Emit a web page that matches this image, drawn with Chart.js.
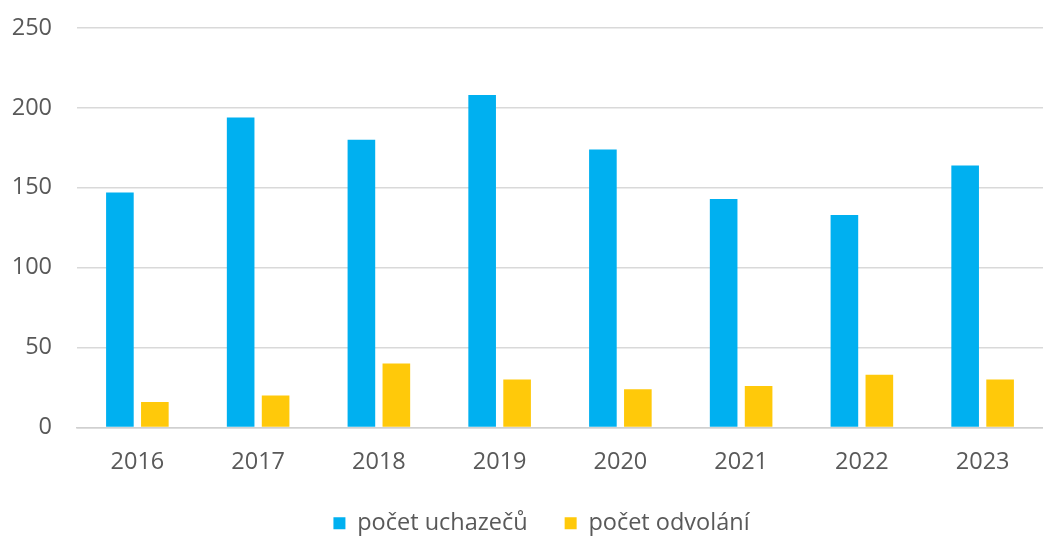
<!DOCTYPE html>
<html>
<head>
<meta charset="utf-8">
<script src="https://cdn.jsdelivr.net/npm/chart.js@4"></script>
<style>
  html, body { margin: 0; padding: 0; background: #fff; }
  #wrap { width: 1043px; height: 536px; }
</style>
</head>
<body>
<div id="wrap"><canvas id="chart"></canvas></div>
<script>
const years = ['2016', '2017', '2018', '2019', '2020', '2021', '2022', '2023'];
const uchazeci = [147, 194, 180, 208, 174, 143, 133, 164];
const odvolani = [16, 20, 40, 30, 24, 26, 33, 30];
const yTicks = [0, 50, 100, 150, 200, 250];

const textColor = '#595959';
const fontFamily = "'Open Sans', 'DejaVu Sans', sans-serif";
const tickFont = { family: fontFamily, size: 23.5 };
const legendFont = { family: fontFamily, size: 23.5 };

// legend in the original sits a little right of the page centre
const legendShift = {
    id: 'legendShift',
    afterLayout(c) {
        c.legend.left += 38;
    },
};

const chartCanvas = document.getElementById('chart');
const chart = new Chart(chartCanvas, {
    type: 'bar',
    data: {
        labels: years,
        datasets: [{
            label: 'počet uchazečů',
            data: uchazeci,
            backgroundColor: '#00B0F0',
            categoryPercentage: 0.579,
            barPercentage: 0.79,
        }, {
            label: 'počet odvolání',
            data: odvolani,
            backgroundColor: '#FFC90A',
            categoryPercentage: 0.579,
            barPercentage: 0.79,
        }],
    },
    options: {
        responsive: true,
        maintainAspectRatio: false,
        animation: false,
        layout: {
            padding: { top: 28, right: -2, left: 0, bottom: -9 },
        },
        scales: {
            x: {
                grid: { display: false, drawTicks: false },
                border: { display: true, color: '#d0d0d0', width: 1.5 },
                ticks: { color: textColor, font: tickFont, padding: 21 },
                afterFit: (axis) => {
                    axis.height = 47;
                    axis.paddingLeft = 0;
                    axis.paddingRight = 0;
                },
            },
            y: {
                min: 0,
                max: 250,
                afterBuildTicks: (axis) => {
                    axis.ticks = yTicks.map(v => ({ value: v }));
                },
                afterFit: (axis) => {
                    axis.width = 77;
                    axis.paddingTop = 0;
                    axis.paddingBottom = 0;
                },
                grid: { color: '#d9d9d9', lineWidth: 1.5, drawTicks: false },
                border: { display: false },
                ticks: { color: textColor, font: tickFont, padding: 25 },
            },
        },
        plugins: {
            legend: {
                position: 'bottom',
                labels: {
                    color: textColor,
                    font: legendFont,
                    boxWidth: 12,
                    boxHeight: 12,
                    padding: 37,
                },
            },
            tooltip: { enabled: false },
        },
    },
    plugins: [legendShift],
});
</script>
</body>
</html>
